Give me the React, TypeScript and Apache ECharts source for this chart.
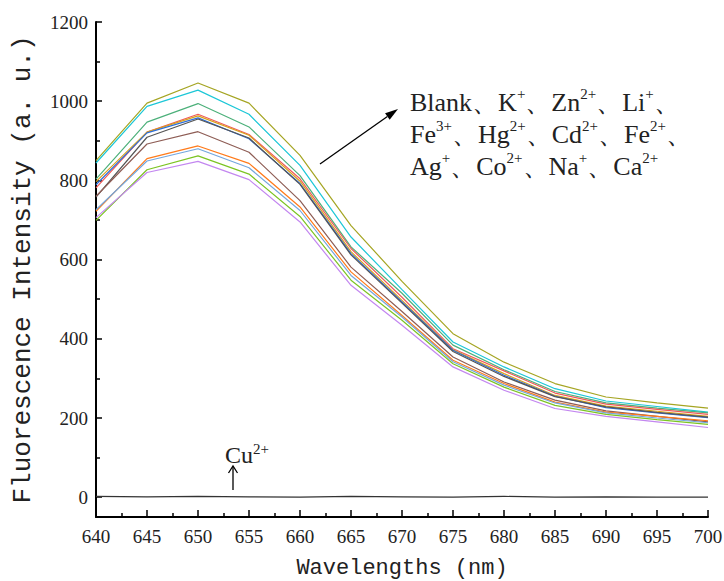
import React, { useEffect, useRef } from "react";
import * as echarts from "echarts";

const wavelengths = [640, 645, 650, 655, 660, 665, 670, 675, 680, 685, 690, 695, 700];

const seriesNames = ["Blank", "K+", "Zn2+", "Li+", "Fe3+", "Hg2+", "Cd2+", "Fe2+", "Ag+", "Co2+", "Na+", "Ca2+"];

const s1 = [850, 995, 1046, 995, 863, 686, 545, 413, 341, 287, 253, 238, 225];
const s2 = [844, 987, 1028, 967, 838, 657, 524, 392, 329, 274, 243, 229, 215];
const s3 = [803, 947, 994, 935, 812, 632, 515, 384, 322, 267, 238, 225, 213];
const s4 = [781, 922, 967, 916, 804, 628, 505, 375, 319, 263, 235, 222, 209];
const s5 = [797, 922, 963, 914, 798, 620, 497, 372, 312, 257, 230, 217, 204];
const s6 = [789, 920, 958, 905, 792, 615, 493, 371, 308, 255, 226, 213, 201];
const s7 = [758, 909, 955, 907, 790, 612, 490, 368, 305, 254, 228, 214, 202];
const s8 = [760, 892, 923, 871, 749, 581, 469, 354, 291, 245, 218, 204, 190];
const s9 = [722, 855, 887, 843, 733, 569, 459, 346, 287, 240, 215, 204, 193];
const s10 = [726, 849, 880, 832, 724, 560, 455, 342, 283, 238, 213, 200, 188];
const s11 = [699, 827, 862, 816, 709, 548, 447, 337, 278, 232, 209, 196, 184];
const s12 = [706, 820, 848, 802, 695, 535, 434, 329, 270, 224, 204, 190, 176];
const cu = [2, 1, 2, 1, 0, 2, 1, 0, 2, 0, 1, 0, 0];

const ionSeries = [s1, s2, s3, s4, s5, s6, s7, s8, s9, s10, s11, s12];
const colors = [
  "#A5A523", "#1CC7D7", "#4CB07A", "#F05A5A", "#D9A21B", "#2E6FD8",
  "#555555", "#8E5D55", "#FF7A1A", "#74A7DE", "#7CC423", "#C387F0",
];

const yMajor = [0, 200, 400, 600, 800, 1000, 1200];
const yMinor = [100, 300, 500, 700, 900, 1100];

const SERIF = "Liberation Serif";
const MONO = "Liberation Mono";

function arrowHead(x1: number, y1: number, x2: number, y2: number, len: number, half: number) {
  const dx = x2 - x1, dy = y2 - y1;
  const L = Math.sqrt(dx * dx + dy * dy);
  const ux = dx / L, uy = dy / L;
  const bx = x2 - ux * len, by = y2 - uy * len;
  const px = -uy, py = ux;
  return {
    base: [bx, by],
    pts: [[x2, y2], [bx + px * half, by + py * half], [bx - px * half, by - py * half]],
  };
}

export default function App() {
  const ref = useRef<HTMLDivElement>(null);
  useEffect(() => {
    document.body.style.margin = "0";
    const chart = echarts.init(ref.current!, null, { renderer: "svg" });
    const head = arrowHead(320, 164, 398, 109, 13, 4);
    const richN = { fontFamily: SERIF, fontSize: 26, color: "#222", lineHeight: 32 };
    const richS = { fontFamily: SERIF, fontSize: 15, color: "#222", verticalAlign: "top", lineHeight: 15 };
    const series: any[] = ionSeries.map((d, i) => ({
      name: seriesNames[i],
      type: "line",
      data: wavelengths.map((w, j) => [w, d[j]]),
      showSymbol: false,
      symbol: "none",
      lineStyle: { width: 1.2, color: colors[i] },
      itemStyle: { color: colors[i] },
    }));
    series.push({
      name: "Cu2+",
      type: "line",
      data: wavelengths.map((w, j) => [w, cu[j]]),
      symbol: "none",
      lineStyle: { width: 1.2, color: "#333" },
    });
    const labelStyle = {
      fontFamily: SERIF,
      fontSize: 19,
      color: "#222",
      formatter: (v: number) => String(v),
    };
    chart.setOption({
      animation: false,
      backgroundColor: "#fff",
      textStyle: { fontFamily: SERIF },
      grid: { left: 96, right: 16, top: 22, bottom: 64, outerBoundsMode: "none" },
      xAxis: {
        type: "value",
        min: 640,
        max: 700,
        interval: 5,
        name: "Wavelengths (nm)",
        nameLocation: "middle",
        nameGap: 40,
        nameTextStyle: { fontFamily: MONO, fontSize: 22, color: "#222" },
        axisLine: { onZero: false, lineStyle: { color: "#000", width: 2 } },
        axisTick: { inside: true, length: 7, lineStyle: { color: "#000", width: 1.5 } },
        minorTick: { show: true, splitNumber: 2, length: 4, lineStyle: { color: "#000", width: 1.5 } },
        axisLabel: { ...labelStyle, margin: 10 },
        splitLine: { show: false },
      },
      yAxis: [
        {
          type: "value",
          min: -50,
          max: 1200,
          name: "Fluorescence Intensity (a. u.)",
          nameLocation: "middle",
          nameGap: 60,
          nameTextStyle: { fontFamily: MONO, fontSize: 26, color: "#222" },
          axisLine: { show: true, onZero: false, lineStyle: { color: "#000", width: 2 } },
          axisTick: { show: true, inside: true, length: 6, customValues: yMajor, lineStyle: { color: "#000", width: 1.5 } },
          axisLabel: { ...labelStyle, customValues: yMajor, margin: 8 },
          splitLine: { show: false },
        },
        {
          type: "value",
          position: "left",
          min: -50,
          max: 1200,
          axisLine: { show: false },
          axisTick: { show: true, inside: true, length: 4, customValues: yMinor, lineStyle: { color: "#000", width: 1.5 } },
          axisLabel: { show: false },
          splitLine: { show: false },
        },
      ],
      series,
      graphic: [
        { type: "line", shape: { x1: 320, y1: 164, x2: head.base[0], y2: head.base[1] }, style: { stroke: "#000", lineWidth: 1.3 } },
        { type: "polygon", shape: { points: head.pts }, style: { fill: "#000" } },
        {
          type: "text",
          x: 410,
          y: 86,
          style: {
            text:
              "{n|Blank、K}{s|+}{n|、Zn}{s|2+}{n|、Li}{s|+}{n|、}\n" +
              "{n|Fe}{s|3+}{n|、Hg}{s|2+}{n|、Cd}{s|2+}{n|、Fe}{s|2+}{n|、}\n" +
              "{n|Ag}{s|+}{n|、Co}{s|2+}{n|、Na}{s|+}{n|、Ca}{s|2+}",
            rich: { n: richN, s: richS },
            fontFamily: SERIF,
            fontSize: 26,
            fill: "#222",
            verticalAlign: "top",
          },
        },
        {
          type: "text",
          x: 225,
          y: 441,
          style: {
            text: "{n|Cu}{s|2+}",
            rich: { n: { ...richN, fontSize: 24, lineHeight: 28 }, s: richS },
            fontFamily: SERIF,
            fontSize: 24,
            fill: "#222",
            verticalAlign: "top",
          },
        },
        { type: "line", shape: { x1: 233, y1: 490, x2: 233, y2: 466 }, style: { stroke: "#000", lineWidth: 1.3 } },
        { type: "polyline", shape: { points: [[228.5, 473], [233, 466], [237.5, 473]] }, style: { stroke: "#000", lineWidth: 1.3, fill: "none" } },
      ],
    });
    return () => chart.dispose();
  }, []);
  return <div ref={ref} style={{ width: 724, height: 581 }} />;
}
